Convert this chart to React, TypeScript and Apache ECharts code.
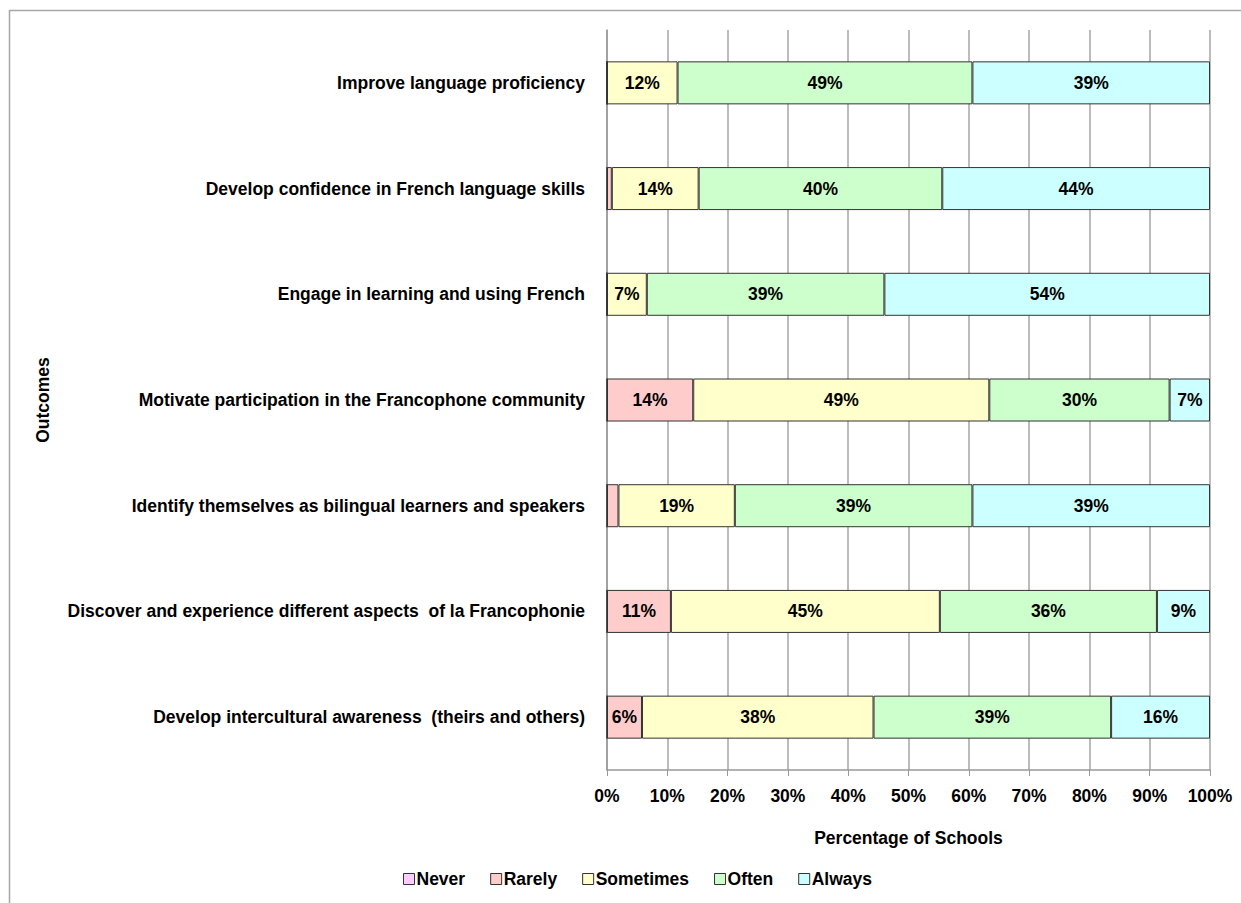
import React, { useEffect, useRef } from "react";
import * as echarts from "echarts";

const categories = [
  "Improve language proficiency",
  "Develop confidence in French language skills",
  "Engage in learning and using French",
  "Motivate participation in the Francophone community",
  "Identify themselves as bilingual learners and speakers",
  "Discover and experience different aspects  of la Francophonie",
  "Develop intercultural awareness  (theirs and others)",
];

const seriesNames = ["Never", "Rarely", "Sometimes", "Often", "Always"];
const seriesColors = ["#ffccff", "#ffcccc", "#ffffcc", "#ccffcc", "#ccffff"];

const never = [0, 0, 0, 0, 0, 0, 0];
const rarely = [0, 0.8, 0, 14.3, 1.9, 10.6, 5.8];
const sometimes = [11.7, 14.4, 6.6, 49.1, 19.3, 44.6, 38.4];
const often = [48.9, 40.4, 39.4, 29.9, 39.4, 36.0, 39.4];
const always = [39.4, 44.4, 54.0, 6.7, 39.4, 8.8, 16.4];

const xTicks = [0, 10, 20, 30, 40, 50, 60, 70, 80, 90, 100];

const FONT = "'Liberation Sans', Arial, sans-serif";
const FS = 17.5;

export default function App() {
  const ref = useRef<HTMLDivElement>(null);
  useEffect(() => {
    if (!ref.current) return;
    const chart = echarts.init(ref.current, null, { renderer: "svg" });
    const seriesData = [never, rarely, sometimes, often, always];
    chart.setOption({
      animation: false,
      backgroundColor: "#ffffff",
      textStyle: { fontFamily: FONT },
      graphic: [
        {
          type: "rect",
          shape: { x: 9.5, y: 10.5, width: 1400, height: 1200 },
          style: { fill: "none", stroke: "#a6a6a6", lineWidth: 1.5 },
          silent: true,
          z: -1,
        },
      ],
      legend: {
        bottom: 10,
        left: 398,
        itemWidth: 11,
        itemHeight: 11,
        itemGap: 25,
        icon: "rect",
        data: seriesNames.map((n, i) => ({
          name: n,
          itemStyle: { color: seriesColors[i], borderColor: "#333", borderWidth: 1 },
        })),
        textStyle: { fontFamily: FONT, fontWeight: "bold", fontSize: FS, color: "#000", padding: [0, 0, 0, -3] },
      },
      grid: { left: 607, right: 31, top: 30, bottom: 133, containLabel: false },
      xAxis: {
        type: "value",
        min: 0,
        max: 100,
        interval: 10,
        name: "Percentage of Schools",
        nameLocation: "middle",
        nameGap: 59,
        nameTextStyle: { fontFamily: FONT, fontWeight: "bold", fontSize: FS, color: "#000" },
        axisLine: { show: true, lineStyle: { color: "#999", width: 1.5 } },
        axisTick: { show: true, length: 6, lineStyle: { color: "#999" } },
        splitLine: { show: true, lineStyle: { color: "#a6a6a6", width: 1.5 } },
        axisLabel: {
          fontFamily: FONT,
          fontWeight: "bold",
          fontSize: FS,
          color: "#000",
          margin: 17,
          formatter: (v: number) => (xTicks.includes(v) ? v + "%" : ""),
        },
      },
      yAxis: {
        type: "category",
        data: categories,
        inverse: true,
        name: "Outcomes",
        nameLocation: "middle",
        nameGap: 555,
        nameRotate: 90,
        nameTextStyle: { fontFamily: FONT, fontWeight: "bold", fontSize: FS, color: "#000" },
        axisLine: { show: true, lineStyle: { color: "#999", width: 1.5 } },
        axisTick: { show: false },
        axisLabel: {
          fontFamily: FONT,
          fontWeight: "bold",
          fontSize: FS,
          color: "#000",
          margin: 22,
        },
      },
      series: seriesNames.map((name, i) => ({
        name,
        type: "bar",
        stack: "total",
        barWidth: 43,
        data: seriesData[i],
        itemStyle: { color: seriesColors[i], borderColor: "#333", borderWidth: 1 },
        label: {
          show: true,
          position: "inside",
          fontFamily: FONT,
          fontWeight: "bold",
          fontSize: FS,
          color: "#000",
          formatter: (p: any) => (p.value >= 3 ? Math.round(p.value) + "%" : ""),
        },
      })),
    });
    return () => chart.dispose();
  }, []);
  return (
    <div
      ref={ref}
      style={{ position: "fixed", left: 0, top: 0, width: 1241, height: 903 }}
    />
  );
}
